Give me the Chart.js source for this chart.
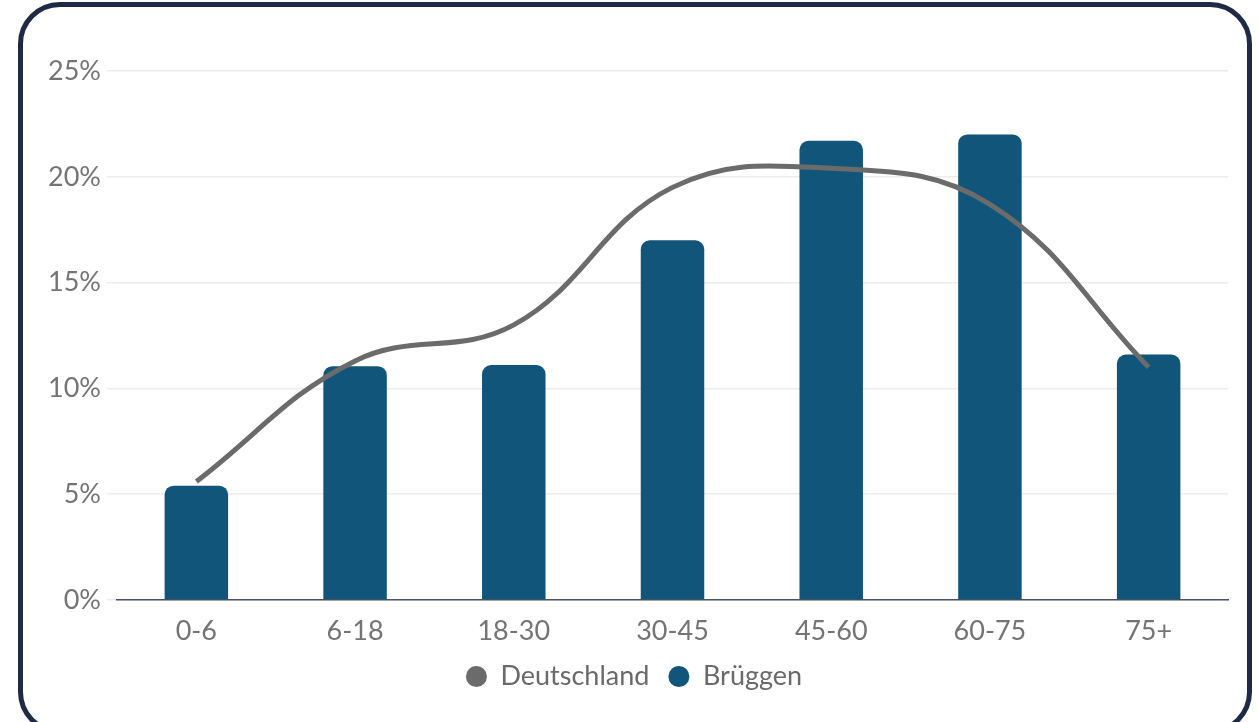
<!DOCTYPE html>
<html>
<head>
<meta charset="utf-8">
<script src="https://cdn.jsdelivr.net/npm/chart.js@4"></script>
<style>
  html, body { margin: 0; padding: 0; background: #ffffff; overflow: hidden; }
  #frame {
    position: absolute; left: 18px; top: 2px; width: 1224px; height: 722px;
    border: 5px solid #1f2a45; border-radius: 42px; box-sizing: content-box;
  }
  #wrap { position: absolute; left: 0; top: 0; width: 1259px; height: 722px; }
</style>
</head>
<body>
<div id="frame"></div>
<div id="wrap"><canvas id="c" width="1259" height="722"></canvas></div>
<script>
const categories = ['0-6', '6-18', '18-30', '30-45', '45-60', '60-75', '75+'];
const deutschland = [5.6, 11.3, 13.0, 19.5, 20.4, 18.7, 11.0];
const brueggen = [5.4, 11.05, 11.1, 17.0, 21.7, 22.0, 11.6];
const seriesNames = ['Deutschland', 'Brüggen'];
const yTicks = [0, 5, 10, 15, 20, 25];

const FONT = 'Lato';
new Chart(document.getElementById('c'), {
  data: {
    labels: categories,
    datasets: [
      {
        type: 'line',
        label: seriesNames[0],
        data: deutschland,
        borderColor: '#6b6b6b',
        backgroundColor: '#6b6b6b',
        borderWidth: 5,
        tension: 0.4,
        pointRadius: 0,
        pointHoverRadius: 0,
        pointStyle: 'circle',
        fill: false,
        order: 0
      },
      {
        type: 'bar',
        label: seriesNames[1],
        data: brueggen,
        backgroundColor: '#12557a',
        borderRadius: { topLeft: 9, topRight: 9 },
        borderSkipped: 'start',
        categoryPercentage: 0.5,
        barPercentage: 0.8,
        pointStyle: 'circle',
        order: 1
      }
    ]
  },
  options: {
    responsive: false,
    animation: false,
    devicePixelRatio: 1,
    layout: { padding: { left: 40, right: 31, top: 71, bottom: 22 } },
    scales: {
      x: {
        grid: { display: false, drawTicks: false },
        border: { display: true, color: '#4a5263', width: 1.5 },
        ticks: { color: '#747474', font: { family: FONT, size: 27 }, padding: 15 },
        afterFit: (s) => { s.height = 44; }
      },
      y: {
        min: 0, max: 25,
        afterBuildTicks: (s) => { s.ticks = yTicks.map(v => ({ value: v })); },
        grid: { color: '#ececec', lineWidth: 1.5, tickLength: 10, drawTicks: true },
        border: { display: false },
        ticks: {
          color: '#747474', font: { family: FONT, size: 27 }, padding: 6,
          callback: (v) => v + '%'
        },
        afterFit: (s) => { s.width = 77; }
      }
    },
    plugins: {
      tooltip: { enabled: false },
      legend: {
        position: 'bottom',
        labels: {
          usePointStyle: true,
          pointStyleWidth: 21,
          boxHeight: 15,
          padding: 19,
          color: '#6a6a6a',
          font: { family: FONT, size: 27 },
          generateLabels: (chart) => {
            const items = Chart.defaults.plugins.legend.labels.generateLabels(chart);
            items.forEach(it => { it.lineWidth = 0; it.strokeStyle = 'rgba(0,0,0,0)'; });
            return items;
          }
        }
      }
    }
  }
});
</script>
</body>
</html>
